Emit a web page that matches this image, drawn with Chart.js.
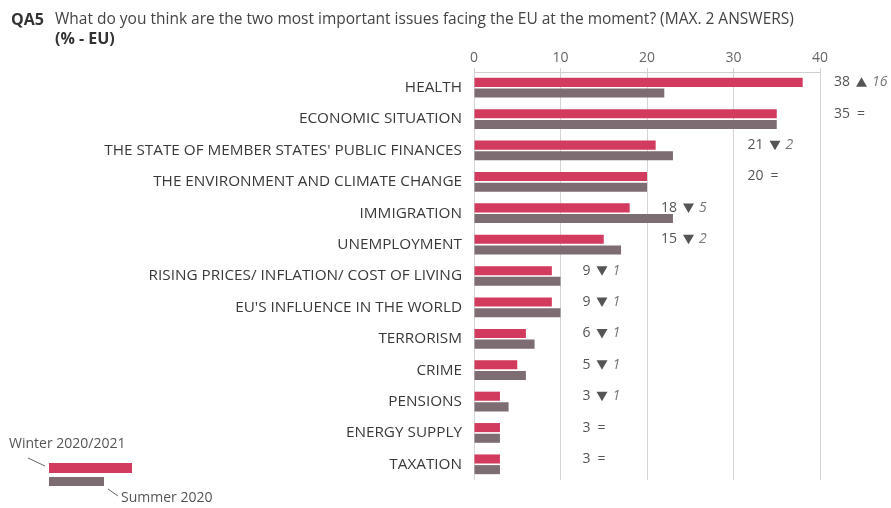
<!DOCTYPE html>
<html>
<head>
<meta charset="utf-8">
<script src="https://cdn.jsdelivr.net/npm/chart.js@4.4.1/dist/chart.umd.min.js"></script>
<style>
  html, body { margin: 0; padding: 0; background: #fff; }
  #wrap { width: 891px; height: 508px; position: relative; }
</style>
</head>
<body>
<div id="wrap"><canvas id="issuesChart" width="891" height="508"></canvas></div>
<script>
const categories = [
  'HEALTH',
  'ECONOMIC SITUATION',
  "THE STATE OF MEMBER STATES' PUBLIC FINANCES",
  'THE ENVIRONMENT AND CLIMATE CHANGE',
  'IMMIGRATION',
  'UNEMPLOYMENT',
  'RISING PRICES/ INFLATION/ COST OF LIVING',
  "EU'S INFLUENCE IN THE WORLD",
  'TERRORISM',
  'CRIME',
  'PENSIONS',
  'ENERGY SUPPLY',
  'TAXATION'
];
const winter = [38, 35, 21, 20, 18, 15, 9, 9, 6, 5, 3, 3, 3];
const summer = [22, 35, 23, 20, 23, 17, 10, 10, 7, 6, 4, 3, 3];
const xTicks = [0, 10, 20, 30, 40];

const RED = '#d23a5e';
const GREY = '#7e6c73';
const FONT = "'Open Sans', 'DejaVu Sans', sans-serif";

// title, value/change labels and the little legend are drawn by hand
const extras = {
  id: 'extras',
  afterDraw(chart) {
    const ctx = chart.ctx;
    const x = chart.scales.x;
    ctx.save();

    // title
    ctx.textBaseline = 'middle';
    ctx.textAlign = 'left';
    ctx.fillStyle = '#333';
    ctx.font = 'bold 16px ' + FONT;
    ctx.fillText('QA5', 11, 20);
    ctx.fillStyle = '#444';
    ctx.font = '15.5px ' + FONT;
    ctx.fillText('What do you think are the two most important issues facing the EU at the moment? (MAX. 2 ANSWERS)', 55, 20);
    ctx.fillStyle = '#333';
    ctx.font = 'bold 16px ' + FONT;
    ctx.fillText('(% - EU)', 55, 39);

    // value + change next to each pair
    const bars = chart.getDatasetMeta(0).data;
    winter.forEach((w, i) => {
      const diff = w - summer[i];
      const gx = x.getPixelForValue(Math.floor(w / 10) * 10 + 10);
      const y = bars[i].y;
      const right = gx + 30;
      ctx.font = '14px ' + FONT;
      ctx.fillStyle = '#555';
      ctx.textAlign = 'right';
      ctx.fillText(String(w), right, y);
      ctx.textAlign = 'left';
      if (diff === 0) {
        ctx.fillText('=', right + 7, y);
      } else {
        ctx.fillStyle = '#555';
        ctx.beginPath();
        const tx = right + 6, s = 11;
        if (diff > 0) {
          ctx.moveTo(tx, y + 4.5); ctx.lineTo(tx + s, y + 4.5); ctx.lineTo(tx + s / 2, y - 5);
        } else {
          ctx.moveTo(tx, y - 4.5); ctx.lineTo(tx + s, y - 4.5); ctx.lineTo(tx + s / 2, y + 5);
        }
        ctx.closePath();
        ctx.fill();
        ctx.fillStyle = '#777';
        ctx.font = 'italic 14px ' + FONT;
        ctx.fillText(String(Math.abs(diff)), tx + s + 5, y);
      }
    });

    // legend
    ctx.fillStyle = '#555';
    ctx.font = '14px ' + FONT;
    ctx.textAlign = 'left';
    ctx.fillText('Winter 2020/2021', 9, 444);
    ctx.fillText('Summer 2020', 121, 498);
    ctx.fillStyle = RED;
    ctx.fillRect(49, 463, 83, 10);
    ctx.fillStyle = GREY;
    ctx.fillRect(49, 477, 55, 9);
    ctx.strokeStyle = '#666';
    ctx.lineWidth = 1;
    ctx.beginPath();
    ctx.moveTo(28, 458); ctx.lineTo(45, 466);
    ctx.moveTo(108, 489); ctx.lineTo(118, 496);
    ctx.stroke();

    ctx.restore();
  }
};

new Chart(document.getElementById('issuesChart').getContext('2d'), {
  type: 'bar',
  data: {
    labels: categories,
    datasets: [
      { label: 'Winter 2020/2021', data: winter, backgroundColor: RED, barPercentage: 0.85, categoryPercentage: 0.68 },
      { label: 'Summer 2020', data: summer, backgroundColor: GREY, barPercentage: 0.85, categoryPercentage: 0.68 }
    ]
  },
  options: {
    indexAxis: 'y',
    responsive: false,
    animation: false,
    layout: { padding: { left: 0, right: 71, top: 40, bottom: 28 } },
    scales: {
      x: {
        position: 'top',
        min: 0,
        max: 40,
        afterBuildTicks: (scale) => { scale.ticks = xTicks.map((v) => ({ value: v })); },
        afterFit: (scale) => { scale.height = 32; },
        ticks: { color: '#666', font: { family: FONT, size: 14 }, padding: 2 },
        grid: { color: '#d4d4d4', tickLength: 4, lineWidth: 1 },
        border: { color: '#cfcfcf' }
      },
      y: {
        afterFit: (scale) => { scale.width = 474; },
        ticks: { color: '#3a3a3a', font: { family: FONT, size: 15.3 }, padding: 4 },
        grid: { display: false },
        border: { display: false }
      }
    },
    plugins: {
      legend: { display: false },
      tooltip: { enabled: false }
    }
  },
  plugins: [extras]
});
</script>
</body>
</html>
